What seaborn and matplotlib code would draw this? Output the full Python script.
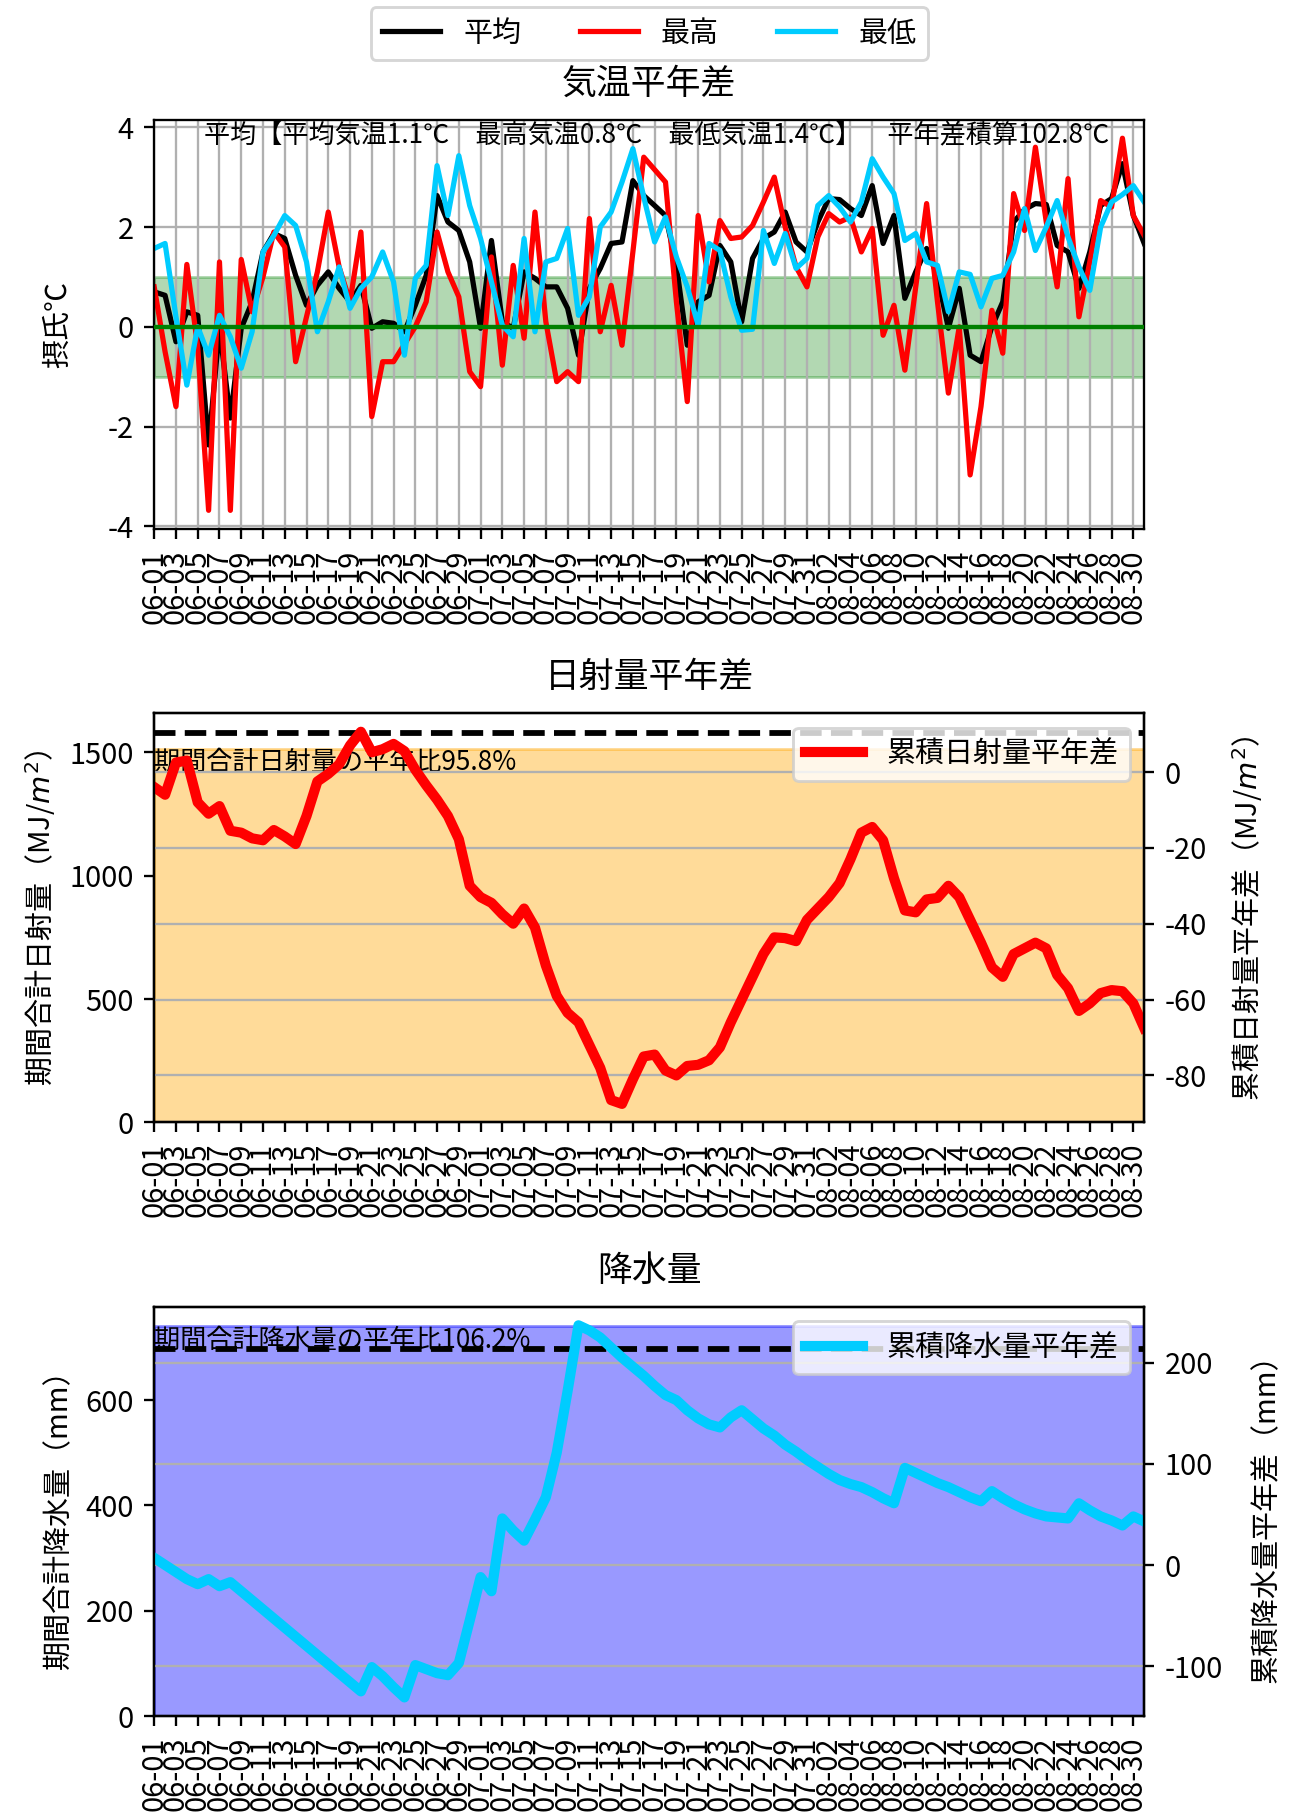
import numpy as np
import pandas as pd
import matplotlib
matplotlib.use("Agg")
import matplotlib.pyplot as plt
import seaborn as sns
from matplotlib.ticker import MultipleLocator

plt.rcParams['font.family'] = ['Noto Sans CJK JP', 'DejaVu Sans']
plt.rcParams['axes.unicode_minus'] = False

# daily dates 06-01 .. 08-31
dates = pd.date_range("2024-06-01", "2024-08-31")
date_labels = dates.strftime("%m-%d").tolist()

# temperature deviation from normal (degC)
temp_mean = [0.70, 0.63, -0.30, 0.30, 0.23, -2.37, -0.03, -1.83, -0.03, 0.5,
             1.5, 1.87, 1.77, 1.03, 0.43, 0.83, 1.1, 0.77, 0.5, 0.83,
             -0.03, 0.1, 0.07, -0.1, 0.43, 1.03, 2.63, 2.1, 1.93, 1.3,
             -0.03, 1.73, 0.1, -0.03, 1.1, 0.97, 0.8, 0.8, 0.37, -0.57,
             0.77, 1.17, 1.67, 1.7, 2.93, 2.63, 2.43, 2.23, 1.23, -0.37,
             0.5, 0.63, 1.63, 1.3, 0.1, 1.37, 1.77, 1.9, 2.3, 1.7,
             1.5, 2.1, 2.57, 2.55, 2.37, 2.23, 2.83, 1.67, 2.23, 0.57,
             1.1, 1.57, 1.0, -0.03, 0.77, -0.57, -0.7, 0.0, 0.5, 2.1,
             2.35, 2.47, 2.45, 1.63, 1.5, 0.77, 1.5, 2.43, 2.57, 3.27,
             2.23, 1.67]
temp_max = [0.8, -0.5, -1.6, 1.25, -0.4, -3.68, 1.3, -3.68, 1.35, 0.3,
            1.0, 1.9, 1.6, -0.7, 0.2, 1.1, 2.3, 1.2, 0.5, 1.9,
            -1.8, -0.7, -0.7, -0.35, 0.0, 0.5, 1.9, 1.1, 0.6, -0.9,
            -1.2, 1.4, -0.77, 1.23, -0.23, 2.3, 0.1, -1.1, -0.9, -1.1,
            2.17, -0.1, 0.83, -0.37, 1.5, 3.4, 3.15, 2.9, 0.5, -1.5,
            2.23, 0.9, 2.13, 1.77, 1.8, 2.03, 2.5, 3.0, 2.0, 1.2,
            0.8, 1.8, 2.27, 2.1, 2.2, 1.5, 1.97, -0.17, 0.43, -0.87,
            0.8, 2.47, 0.5, -1.33, 0.0, -2.97, -1.6, 0.33, -0.53, 2.67,
            1.93, 3.6, 2.1, 0.8, 2.97, 0.2, 1.3, 2.53, 2.4, 3.78,
            2.23, 1.83]
temp_min = [1.57, 1.67, 0.2, -1.17, 0.0, -0.57, 0.23, -0.2, -0.83, -0.1,
            1.5, 1.83, 2.23, 2.03, 1.3, -0.1, 0.5, 1.2, 0.37, 0.77,
            1.0, 1.5, 0.9, -0.57, 0.97, 1.23, 3.23, 2.23, 3.43, 2.43,
            1.77, 0.9, 0.03, -0.2, 1.77, -0.1, 1.3, 1.37, 1.97, 0.23,
            0.6, 2.0, 2.3, 2.9, 3.57, 2.6, 1.7, 2.2, 1.4, 0.8,
            0.03, 1.67, 1.53, 0.6, -0.07, -0.05, 1.93, 1.27, 1.87, 1.17,
            1.37, 2.43, 2.63, 2.4, 2.1, 2.5, 3.37, 3.0, 2.67, 1.73,
            1.87, 1.3, 1.23, 0.3, 1.1, 1.05, 0.4, 0.97, 1.03, 1.5,
            2.37, 1.53, 2.0, 2.53, 1.8, 1.2, 0.73, 2.0, 2.5, 2.65,
            2.83, 2.5]

# cumulative solar radiation deviation (MJ/m2)
solar_cum_diff = [-4, -6, 2.5, 3, -8, -11, -9, -15.5, -16, -17.5,
                  -18, -15.3, -17, -19, -11.6, -2.5, -0.5, 2, 7, 10.6,
                  5.2, 6, 7.4, 5.5, 0.6, -3.5, -7.3, -11.6, -17.7, -30,
                  -33, -34.5, -37.5, -40, -36, -41, -51, -59, -63.5, -66,
                  -72, -78, -86.5, -87.5, -81, -75, -74.5, -78.7, -80, -77.5,
                  -77.2, -76, -72.6, -66, -60, -54, -48, -43.6, -43.8, -44.6,
                  -39, -36, -33, -29.3, -23, -16, -14.5, -18, -28, -36.5,
                  -37, -33.6, -33.2, -30, -33, -39, -45, -51.5, -54, -48,
                  -46.5, -45, -46.5, -53.5, -57, -63, -61, -58.3, -57.5, -57.8,
                  -61, -67.5]

# cumulative precipitation deviation (mm)
rain_cum_diff = [7, 0, -7, -14, -19, -14, -21, -17, -26, -35,
                 -44, -53, -62, -71, -80, -89, -98, -107, -116, -125,
                 -101, -110, -121, -131, -99, -103, -107, -109, -97, -55,
                 -12, -26, 46, 34, 24, 45, 67, 111, 172, 237,
                 232, 225, 215, 205, 196, 187, 177, 168, 163, 153,
                 145, 139, 136, 146, 153, 144, 135, 128, 119, 112,
                 104, 97, 90, 84, 80, 77, 72, 66, 61, 96,
                 91, 86, 81, 77, 72, 67, 63, 73, 66, 60,
                 55, 51, 48, 47, 46, 61, 54, 48, 44, 39,
                 48, 43]

solar_total, solar_normal = 1513, 1579
rain_total, rain_normal = 740, 697

temp_note = "平均【平均気温1.1℃　最高気温0.8℃　最低気温1.4℃】　平年差積算102.8℃"

x = np.arange(len(dates))
cyan = '#00ccff'

fig, axes = plt.subplots(3, 1, figsize=(6.2, 8.68), dpi=209)
fig.subplots_adjust(left=0.119, right=0.883, top=0.934, bottom=0.054, hspace=0.45)

# --- temperature
ax = axes[0]
ax.axhspan(-1, 1, color='green', alpha=0.3)
sns.lineplot(x=x, y=temp_mean, ax=ax, color='black', lw=1.8, label='平均')
sns.lineplot(x=x, y=temp_max, ax=ax, color='red', lw=1.8, label='最高')
sns.lineplot(x=x, y=temp_min, ax=ax, color=cyan, lw=1.8, label='最低')
ax.axhline(0, color='green', lw=1.5, zorder=3)
ax.set_yticks([-4, -2, 0, 2, 4])
ax.grid(True)
ax.set_ylabel('摂氏℃', labelpad=12)
ax.set_title('気温平年差', pad=9)
ax.text(0.507, 3.84, temp_note, transform=ax.get_yaxis_transform(),
        ha='center', va='center', fontsize=9)
ax.legend(loc='lower center', bbox_to_anchor=(0.5, 1.11), ncol=3)

# --- solar radiation
ax = axes[1]
ax.axhspan(0, solar_total, color='orange', alpha=0.4)
ax.axhline(solar_normal, color='black', ls='--', lw=2)
ax.set_ylim(0, max(solar_total, solar_normal) * 1.05)
ax.yaxis.set_major_locator(MultipleLocator(500))
ax.text(0, solar_total, f'期間合計日射量の平年比{solar_total / solar_normal * 100:.1f}%',
        ha='left', va='top', fontsize=9)
ax.set_ylabel('期間合計日射量（MJ/$m^2$）')
ax.set_title('日射量平年差', pad=9)
ax2 = ax.twinx()
sns.lineplot(x=x, y=solar_cum_diff, ax=ax2, color='red', lw=3.5, label='累積日射量平年差')
ax2.grid(axis='y')
ax2.set_ylabel('累積日射量平年差（MJ/$m^2$）', labelpad=8)
ax2.legend(loc='upper right')

# --- precipitation
ax = axes[2]
ax.axhspan(0, rain_total, color='blue', alpha=0.4)
ax.axhline(rain_normal, color='black', ls='--', lw=2)
ax.set_ylim(0, max(rain_total, rain_normal) * 1.05)
ax.text(0, rain_total, f'期間合計降水量の平年比{rain_total / rain_normal * 100:.1f}%',
        ha='left', va='top', fontsize=9)
ax.set_ylabel('期間合計降水量（mm）')
ax.set_title('降水量', pad=9)
ax2 = ax.twinx()
sns.lineplot(x=x, y=rain_cum_diff, ax=ax2, color=cyan, lw=3.5, label='累積降水量平年差')
ax2.grid(axis='y')
ax2.set_ylabel('累積降水量平年差（mm）', labelpad=10)
ax2.legend(loc='upper right')

for ax in axes:
    ax.set_xlim(0, len(x) - 1)
    ax.set_xticks(x[::2])
    ax.set_xticklabels(date_labels[::2], rotation=90)

fig.savefig('out.png', dpi=209)
